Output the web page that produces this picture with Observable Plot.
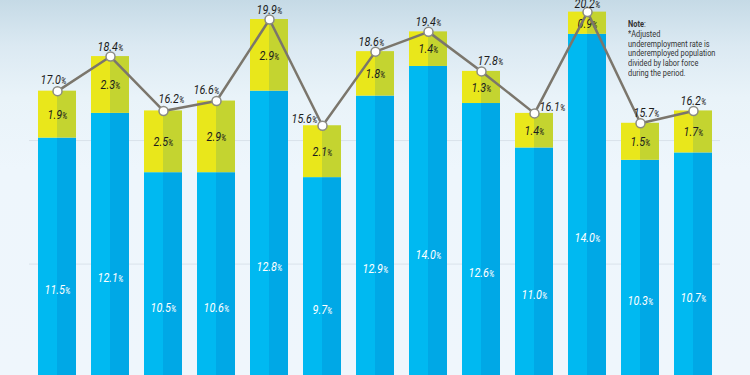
<!DOCTYPE html>
<html>
<head>
<meta charset="utf-8">
<script src="https://cdn.jsdelivr.net/npm/d3@7"></script>
<script src="https://cdn.jsdelivr.net/npm/@observablehq/plot@0.6"></script>
<style>
  html, body { margin: 0; padding: 0; }
  body {
    width: 750px; height: 375px; overflow: hidden; position: relative;
    background: linear-gradient(to bottom, #c5dae6 0%, #dbe9f2 12%, #e9f3f9 26%, #eef6fc 45%, #eff6fc 100%);
    font-family: Roboto, "Noto Sans", sans-serif;
  }
  #chart svg { display: block; }
  #note {
    position: absolute; left: 628px; top: 19px;
    font-size: 9.6px; line-height: 9.8px; color: #333; white-space: nowrap;
    transform: scaleX(0.77); transform-origin: 0 0;
  }
  #note b { font-weight: bold; }
</style>
</head>
<body>
<div id="chart"></div>
<div id="note"><b>Note</b>:<br>*Adjusted<br>underemployment rate is<br>underemployed population<br>divided by labor force<br>during the period.</div>
<script>
// ---- data ----
const periods = ["1", "2", "3", "4", "5", "6", "7", "8", "9", "10", "11", "12", "13"];
const blueRate = [11.5, 12.1, 10.5, 10.6, 12.8, 9.7, 12.9, 14.0, 12.6, 11.0, 14.0, 10.3, 10.7];
const yellowRate = [1.9, 2.3, 2.5, 2.9, 2.9, 2.1, 1.8, 1.4, 1.3, 1.4, 0.9, 1.5, 1.7];
const adjustedRate = [17.0, 18.4, 16.2, 16.6, 19.9, 15.6, 18.6, 19.4, 17.8, 16.1, 20.2, 15.7, 16.2];
const gridValues = [10, 15];

// ---- layout (not data) ----
const FLOOR = 2.8; // virtual bar floor (bars are cropped by the frame)
const labelNudge = [[-4, -7], [0, -6], [8, -8], [-10, -7], [0, -6], [-18, -3], [-4, -6],
                    [0, -6], [9, -6], [18, -2], [0, -4], [6, -6], [0, -6]];

const rows = periods.map((p, i) => ({
  period: p,
  blue: blueRate[i],
  yellow: yellowRate[i],
  adj: adjustedRate[i],
  split: adjustedRate[i] - yellowRate[i]
}));

const fontFam = 'Roboto, "Noto Sans", sans-serif';

const svg = Plot.plot({
  width: 750,
  height: 375,
  marginLeft: 29,
  marginRight: 30,
  marginTop: 0,
  marginBottom: 0,
  style: { background: "transparent", fontFamily: fontFam },
  x: { domain: periods, paddingInner: 0.286, paddingOuter: 0.143, axis: null },
  y: { domain: [5.49, 20.67], axis: null },
  marks: [
    Plot.ruleY(gridValues, { stroke: "#d9e2ea", strokeWidth: 1 }),
    Plot.barY(rows, { x: "period", y1: FLOOR, y2: "split", fill: "url(#gBlue)", clip: true }),
    Plot.barY(rows, { x: "period", y1: "split", y2: "adj", fill: "url(#gYellow)" }),
    Plot.text(rows, {
      x: "period", y: d => (d.split + FLOOR) / 2, text: d => d.blue.toFixed(1) + "%",
      fill: "white", fontSize: 13.5, fontStyle: "italic", fontWeight: 400
    }),
    Plot.text(rows, {
      x: "period", y: d => (d.split + d.adj) / 2, text: d => d.yellow.toFixed(1) + "%",
      fill: "#1c1c1c", fontSize: 13.5, fontStyle: "italic", fontWeight: 400
    }),
    Plot.line(rows, { x: "period", y: "adj", stroke: "#7b766c", strokeWidth: 2.5 }),
    Plot.dot(rows, { x: "period", y: "adj", r: 4.5, fill: "white", stroke: "#8b8b84", strokeWidth: 1.5 }),
    Plot.text(rows, {
      x: "period", y: "adj", text: d => d.adj.toFixed(1) + "%",
      fill: "#1c1c1c", fontSize: 13.5, fontStyle: "italic", fontWeight: 400, lineAnchor: "bottom"
    })
  ]
});

// two-tone bar fills
const defs = d3.select(svg).insert("defs", ":first-child");
function twoTone(id, c1, c2) {
  const g = defs.append("linearGradient").attr("id", id)
    .attr("x1", 0).attr("x2", 1).attr("y1", 0).attr("y2", 0);
  g.append("stop").attr("offset", "0").attr("stop-color", c1);
  g.append("stop").attr("offset", "0.5").attr("stop-color", c1);
  g.append("stop").attr("offset", "0.5").attr("stop-color", c2);
  g.append("stop").attr("offset", "1").attr("stop-color", c2);
}
twoTone("gBlue", "#00b9f1", "#00a8e6");
twoTone("gYellow", "#e9e71b", "#c4d430");

// the three text marks, in order: blue labels, yellow labels, total labels
const textGroups = Array.from(svg.querySelectorAll('g[aria-label="text"]'));
const allLabels = textGroups.flatMap(g => Array.from(g.querySelectorAll("text")));

// smaller % signs
allLabels.forEach(el => {
  const t = el.textContent;
  if (t.endsWith("%")) {
    el.textContent = t.slice(0, -1);
    d3.select(el).append("tspan").attr("font-size", "9.5").text("%");
  }
});

// nudge total labels off the line
if (textGroups[2]) {
  Array.from(textGroups[2].querySelectorAll("text")).forEach((el, i) => {
    const [dx, dy] = labelNudge[i];
    const tr = el.getAttribute("transform") || "";
    el.setAttribute("transform", tr + ` translate(${dx},${dy})`);
  });
}
// condensed look
allLabels.forEach(el => {
  const tr = el.getAttribute("transform") || "";
  el.setAttribute("transform", tr + " scale(0.8,1)");
});

document.getElementById("chart").appendChild(svg);
</script>
</body>
</html>
